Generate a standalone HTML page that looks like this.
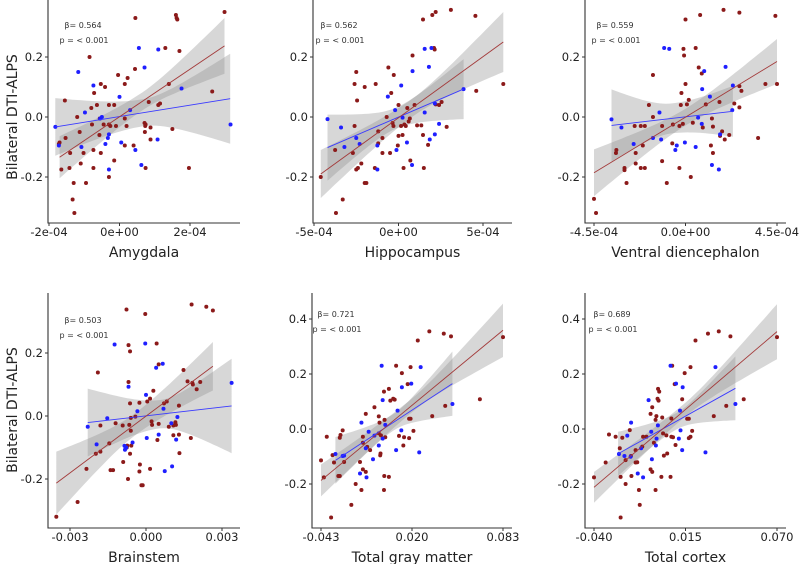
<!DOCTYPE html>
<html><head><meta charset="utf-8"><style>
body{margin:0;background:#fff;width:800px;height:564px;overflow:hidden}
svg{display:block;font-family:"DejaVu Sans","Liberation Sans",sans-serif}
</style></head><body>
<svg id="chart" width="800" height="564" viewBox="0 0 800 564" xmlns="http://www.w3.org/2000/svg"></svg>
<script>
// ---- Data (x in tick units: e-4 for row 1, 1e-3 for brainstem, raw for totals) ----
const p1Red=[[0.45,0.33],[1.6,0.34],[1.62,0.33],[1.64,0.325],[2.98,0.35],[-0.85,0.2],[1.3,0.23],[1.7,0.22],[0.44,0.16],[-0.04,0.14],[0.23,0.13],[-0.53,0.11],[-0.41,0.1],[0.15,0.11],[1.4,0.11],[-0.72,0.08],[2.63,0.085],[-1.55,0.055],[-0.64,0.04],[-0.3,0.04],[-0.15,0.04],[0.83,0.05],[1.1,0.04],[1.15,0.045],[-0.8,0.03],[-1.2,0.0],[0.15,-0.005],[-0.56,-0.005],[-1.13,-0.05],[-1.53,-0.07],[-0.78,-0.025],[-0.45,-0.025],[-0.3,-0.025],[-0.26,-0.03],[-0.1,-0.03],[0.2,-0.03],[0.71,-0.02],[0.74,-0.025],[0.73,-0.03],[0.88,-0.035],[1.5,-0.04],[-0.57,-0.06],[0.72,-0.05],[0.88,-0.075],[-1.7,-0.085],[-1.72,-0.09],[-1.4,-0.12],[-1.02,-0.12],[-0.74,-0.11],[-0.53,-0.12],[0.15,-0.095],[0.4,-0.095],[-1.65,-0.175],[-1.42,-0.17],[-1.1,-0.155],[-0.74,-0.17],[-0.15,-0.145],[-0.3,-0.2],[0.74,-0.17],[1.97,-0.17],[-1.3,-0.22],[-0.95,-0.22],[-1.33,-0.275],[-1.28,-0.32]];
const p1Blue=[[0.55,0.23],[1.1,0.225],[-1.17,0.15],[0.71,0.165],[-0.74,0.105],[1.76,0.095],[0.0,0.067],[-0.98,0.015],[0.3,0.023],[-0.55,-0.005],[-0.5,0.0],[-1.82,-0.033],[3.15,-0.025],[-1.72,-0.095],[-1.08,-0.1],[-0.4,-0.09],[-0.3,-0.058],[-0.33,-0.07],[0.05,-0.085],[0.45,-0.11],[1.08,-0.075],[0.62,-0.16],[-0.3,-0.175]];
const p2Red=[[-4.6,-0.2],[-3.7,-0.32],[-3.3,-0.275],[-3.75,-0.11],[-2.7,-0.12],[-2.6,-0.03],[-2.6,0.11],[-2.5,0.15],[-2.45,0.055],[-2.5,-0.175],[-2.4,-0.17],[-2.2,-0.155],[-2.0,-0.22],[-1.9,-0.22],[-2.0,0.1],[-1.35,0.11],[-1.4,-0.17],[-1.2,-0.048],[-1.2,-0.088],[-0.95,-0.07],[-0.95,-0.12],[-0.6,0.165],[-0.7,0.0],[-0.5,-0.12],[-0.43,0.08],[-0.35,-0.02],[-0.3,-0.03],[-0.28,0.14],[0,0.04],[0,-0.063],[-0.04,-0.095],[0.15,-0.03],[0.24,-0.06],[0.3,-0.17],[0.35,-0.025],[0.43,-0.03],[0.52,0.03],[0.67,-0.005],[0.6,-0.015],[0.83,0.205],[0.7,-0.145],[0.95,0.04],[1.1,-0.028],[1.35,-0.028],[1.45,0.325],[1.45,-0.06],[1.5,-0.17],[1.75,-0.093],[2.0,0.34],[2.2,0.35],[2.1,0.23],[2.14,0.225],[2.2,0.042],[2.4,0.04],[2.55,0.05],[2.85,-0.033],[3.1,0.357],[4.55,0.337],[4.6,0.087],[6.2,0.11]];
const p2Blue=[[-4.2,-0.007],[-3.4,-0.035],[-3.2,-0.1],[-2.5,-0.07],[-2.3,-0.09],[-1.25,-0.095],[-1.25,-0.175],[-0.63,0.068],[-0.2,0.023],[-0.12,-0.11],[0.16,0.105],[0.24,-0.002],[0.5,-0.085],[0.8,-0.16],[0.83,0.153],[1.55,0.015],[1.55,0.227],[1.8,0.167],[1.85,-0.075],[1.95,0.23],[2.15,-0.058],[2.15,0.045],[2.4,-0.023],[3.85,0.093]];
const p3Red=[[-4.5,-0.273],[-4.4,-0.32],[-3.4,-0.11],[-3.42,-0.12],[-3.0,-0.17],[-3.0,-0.177],[-2.9,-0.22],[-2.5,-0.03],[-2.45,-0.12],[-2.45,-0.155],[-2.2,-0.03],[-2.0,-0.03],[-2.2,-0.17],[-2.0,-0.17],[-2.1,-0.095],[-1.8,0.04],[-1.6,0.0],[-1.6,0.14],[-1.15,-0.03],[-1.15,-0.147],[-0.92,-0.22],[-0.65,-0.088],[-0.62,-0.025],[-0.3,-0.03],[-0.3,-0.17],[-0.2,0.08],[-0.23,0.04],[-0.13,-0.023],[-0.1,0.227],[-0.07,0.205],[0,0.325],[0,0.11],[0.07,0.042],[0.16,0.057],[0.26,-0.2],[0.36,-0.019],[0.5,0.23],[0.65,0.165],[0.72,0.34],[0.8,0.145],[0.85,-0.035],[1.0,0.042],[1.25,-0.095],[1.3,-0.005],[1.35,-0.032],[1.35,-0.12],[1.67,0.05],[1.7,-0.063],[1.8,-0.048],[1.87,0.357],[1.93,-0.075],[2.15,-0.06],[2.4,0.045],[2.65,0.348],[2.65,0.103],[2.65,0.032],[2.75,0.087],[3.57,-0.07],[3.93,0.11],[4.42,0.337],[4.5,0.11]];
const p3Blue=[[-3.64,-0.008],[-3.15,-0.035],[-2.55,-0.09],[-1.6,-0.07],[-1.28,0.015],[-1.2,-0.075],[-1.05,0.23],[-0.8,0.227],[-0.5,-0.11],[-0.43,-0.095],[-0.03,-0.085],[0.5,-0.1],[0.62,-0.002],[0.8,-0.023],[0.82,0.093],[0.92,0.153],[1.2,0.068],[1.3,-0.16],[1.64,-0.175],[1.7,-0.058],[1.97,0.167],[2.3,0.023],[2.33,0.105]];
const p4Red=[[-3.54,-0.32],[-2.7,-0.273],[-2.35,-0.168],[-1.98,-0.12],[-1.9,0.138],[-1.8,-0.113],[-1.8,-0.03],[-1.45,-0.087],[-1.4,-0.172],[-1.3,-0.172],[-1.2,-0.023],[-0.92,-0.03],[-0.9,-0.146],[-0.77,0.338],[-0.74,-0.094],[-0.76,-0.1],[-0.71,-0.2],[-0.69,0.225],[-0.69,0.108],[-0.66,-0.028],[-0.63,0.205],[-0.63,0.04],[-0.63,-0.12],[-0.58,-0.094],[-0.6,-0.006],[-0.6,-0.047],[-0.42,-0.002],[-0.26,0.042],[-0.26,-0.176],[-0.24,-0.154],[-0.18,-0.22],[-0.13,-0.22],[-0.03,0.324],[0.05,0.046],[0.16,0.055],[0.16,-0.168],[0.22,-0.017],[0.24,-0.028],[0.29,0.08],[0.42,0.23],[0.45,-0.076],[0.5,0.164],[0.5,-0.025],[0.71,0.04],[0.82,0.046],[0.9,-0.034],[1.08,-0.03],[1.18,-0.028],[1.16,-0.02],[1.08,-0.061],[1.3,0.033],[1.3,-0.059],[1.32,-0.118],[1.48,0.146],[1.64,0.11],[1.77,-0.07],[1.8,0.354],[1.85,0.1],[1.83,0.105],[2.0,0.085],[2.14,0.108],[2.38,0.347],[2.64,0.335]];
const p4Blue=[[-2.3,-0.034],[-1.95,-0.09],[-1.53,-0.007],[-1.24,0.227],[-0.85,-0.095],[-0.83,-0.107],[-0.78,-0.1],[-0.69,0.093],[-0.53,-0.084],[-0.34,0.015],[-0.03,0.23],[0,0.067],[0.03,-0.07],[0.4,0.153],[0.5,-0.059],[0.66,0.166],[0.69,0.023],[0.74,-0.175],[1.0,-0.023],[1.03,-0.16],[1.19,-0.075],[1.24,-0.003],[3.38,0.105]];
const p5Red=[[-0.043,-0.114],[-0.041,-0.176],[-0.039,-0.028],[-0.036,-0.322],[-0.035,-0.095],[-0.034,-0.122],[-0.031,-0.171],[-0.030,-0.171],[-0.030,-0.032],[-0.0295,-0.022],[-0.028,-0.005],[-0.027,-0.12],[-0.022,-0.276],[-0.019,-0.2],[-0.016,-0.12],[-0.015,-0.222],[-0.014,-0.028],[-0.014,-0.05],[-0.014,-0.147],[-0.012,-0.156],[-0.012,0.055],[-0.011,-0.065],[-0.009,-0.077],[-0.006,0.079],[-0.003,0.046],[-0.0025,0.023],[-0.002,-0.096],[-0.0018,-0.089],[-0.003,-0.016],[-0.0015,-0.023],[0.0006,-0.222],[0.0008,-0.171],[0.0006,0.136],[0.001,0.033],[0.0015,-0.03],[0.004,0.146],[0.005,0.103],[0.007,0.11],[0.008,0.107],[0.004,-0.174],[0.009,0.23],[0.011,-0.025],[0.013,0.203],[0.014,-0.06],[0.0145,-0.03],[0.017,0.163],[0.018,0.0375],[0.019,0.0375],[0.018,-0.033],[0.019,0.225],[0.021,-0.007],[0.024,0.322],[0.032,0.355],[0.034,0.047],[0.042,0.347],[0.043,0.084],[0.047,0.337],[0.067,0.108],[0.083,0.334]];
const p5Blue=[[-0.033,-0.091],[-0.028,-0.098],[-0.027,-0.097],[-0.016,-0.162],[-0.015,0.023],[-0.012,-0.07],[-0.0115,-0.176],[-0.010,-0.01],[-0.007,-0.11],[-0.006,-0.024],[-0.003,-0.06],[-0.001,0.23],[-0.0003,-0.035],[-0.0003,0.105],[0.0015,0.015],[0.009,-0.077],[0.010,0.067],[0.0126,-0.005],[0.013,0.152],[0.0195,0.165],[0.025,-0.085],[0.026,0.225],[0.048,0.091]];
const p6Red=[[-0.040,-0.176],[-0.033,-0.122],[-0.031,-0.02],[-0.027,-0.028],[-0.0245,-0.07],[-0.024,-0.174],[-0.024,-0.322],[-0.023,-0.032],[-0.021,-0.113],[-0.021,-0.2],[-0.0185,-0.004],[-0.0178,-0.098],[-0.0175,-0.171],[-0.015,-0.077],[-0.015,-0.122],[-0.014,-0.121],[-0.013,-0.222],[-0.0125,-0.276],[-0.011,-0.064],[-0.0105,-0.028],[-0.0085,-0.028],[-0.006,0.055],[-0.006,-0.147],[-0.005,-0.156],[-0.005,0.079],[-0.004,-0.05],[-0.003,-0.222],[-0.0025,0.047],[-0.003,0.033],[-0.0015,0.146],[-0.0008,0.136],[-0.0012,0.103],[-0.0018,0.11],[0.0005,-0.174],[0.001,0.042],[0.0015,-0.016],[0.002,-0.097],[0.0035,-0.023],[0.004,-0.089],[0.006,-0.174],[0.0065,0.038],[0.0065,-0.028],[0.0075,-0.03],[0.007,0.23],[0.0085,0.163],[0.009,-0.058],[0.013,0.108],[0.0145,0.203],[0.016,0.0375],[0.017,0.0375],[0.017,-0.033],[0.018,-0.028],[0.018,0.225],[0.019,-0.007],[0.021,0.322],[0.0285,0.347],[0.032,0.047],[0.035,0.355],[0.0395,0.084],[0.042,0.337],[0.050,0.108],[0.070,0.334]];
const p6Blue=[[-0.025,-0.091],[-0.0217,-0.098],[-0.020,-0.024],[-0.018,-0.101],[-0.0177,0.023],[-0.0137,-0.162],[-0.0117,-0.07],[-0.0105,-0.176],[-0.0072,0.105],[-0.0056,-0.01],[-0.0052,-0.11],[-0.0028,-0.06],[-0.0016,0.013],[-0.0024,-0.035],[0.006,0.23],[0.0093,0.165],[0.011,-0.035],[0.0117,0.067],[0.012,-0.005],[0.0133,0.152],[0.013,-0.077],[0.027,-0.085],[0.033,0.225],[0.045,0.091]];
// fit lines: [x0, x1, y0, y1, halfwidth-left, halfwidth-min, halfwidth-right]
const fitRed=[[-1.7,2.98,-0.134,0.237,0.07,0.03,0.093],[-4.6,6.2,-0.19,0.25,0.08,0.03,0.1],[-4.5,4.5,-0.186,0.185,0.078,0.028,0.075],[-3.54,2.64,-0.213,0.158,0.1,0.035,0.077],[-0.043,0.083,-0.187,0.359,0.058,0.025,0.097],[-0.040,0.070,-0.212,0.354,0.056,0.025,0.1]];
const fitBlue=[[-1.82,3.14,-0.033,0.061,0.096,0.045,0.15],[-4.2,3.85,-0.102,0.093,0.11,0.035,0.1],[-3.64,2.33,-0.028,0.019,0.12,0.05,0.085],[-2.3,3.38,-0.021,0.032,0.108,0.045,0.15],[-0.033,0.048,-0.114,0.165,0.085,0.03,0.117],[-0.0255,0.045,-0.09,0.148,0.08,0.03,0.116]];
const xTickVals=[[-2,0,2],[-5,0,5],[-4.5,0,4.5],[-3,0,3],[-0.043,0.020,0.083],[-0.040,0.015,0.070]];
const xTickLabels=[["-2e-04","0e+00","2e-04"],["-5e-04","0e+00","5e-04"],["-4.5e-04","0.0e+00","4.5e-04"],["-0.003","0.000","0.003"],["-0.043","0.020","0.083"],["-0.040","0.015","0.070"]];
const yTickVals=[[-0.2,0,0.2],[-0.2,0,0.2],[-0.2,0,0.2],[-0.2,0,0.2],[-0.2,0,0.2,0.4],[-0.2,0,0.2,0.4]];
const yTickLabels=[["-0.2","0.0","0.2"],["-0.2","0.0","0.2"],["-0.2","0.0","0.2"],["-0.2","0.0","0.2"],["-0.2","0.0","0.2","0.4"],["-0.2","0.0","0.2","0.4"]];
const xTitles=["Amygdala","Hippocampus","Ventral diencephalon","Brainstem","Total gray matter","Total cortex"];
const betas=["0.564","0.562","0.559","0.503","0.721","0.689"];

// ---- layout (pixel geometry only) ----
const L=[
 {ax:48,xe:240,top:0,bot:223,xp:[49,190],yp:[177,57],ann:[83,25],row:0},
 {ax:313,xe:512,top:0,bot:223,xp:[314,483],yp:[177,57],ann:[339,25],row:0},
 {ax:585,xe:786,top:0,bot:223,xp:[594,777],yp:[177,57],ann:[615,25],row:0},
 {ax:48,xe:240,top:293,bot:528,xp:[70,222],yp:[479,353],ann:[83,320],row:1},
 {ax:312,xe:512,top:293,bot:528,xp:[321,503],yp:[484,319],ann:[336,314],row:1},
 {ax:585,xe:786,top:293,bot:528,xp:[594,777],yp:[484,319],ann:[612,314],row:1}];
const reds=[p1Red,p2Red,p3Red,p4Red,p5Red,p6Red], blues=[p1Blue,p2Blue,p3Blue,p4Blue,p5Blue,p6Blue];
const NS="http://www.w3.org/2000/svg", svg=document.getElementById('chart');
function mk(tag,attrs,parent,text){const e=document.createElementNS(NS,tag);for(const k in attrs)e.setAttribute(k,attrs[k]);if(text!==undefined)e.textContent=text;(parent||svg).appendChild(e);return e;}

L.forEach((g,i)=>{
  const xv=xTickVals[i], yv=yTickVals[i], yvl=yv.length;
  const sx=v=>g.xp[0]+(v-xv[0])*(g.xp[1]-g.xp[0])/(xv[2]-xv[0]);
  const sy=v=>g.yp[0]+(v-(-0.2))*(g.yp[1]-g.yp[0])/(yv[yvl-1]-(-0.2));
  const grp=mk('g',{});
  
  
  const clip=mk('clipPath',{id:'c'+i},grp);mk('rect',{x:g.ax,y:g.top,width:g.xe-g.ax,height:g.bot-g.top},clip);
  const plot=mk('g',{'clip-path':'url(#c'+i+')'},grp);
  [[fitBlue[i],'#3a3aff','blue'],[fitRed[i],'#a33a3a','red']].forEach(([f,col,nm])=>{
    const [x0,x1,y0,y1,hl,hm,hr]=f, xm=(x0+x1)/2, N=40;
    const hw=x=>{const s=(x-xm)/((x1-x0)/2);const he=x<xm?hl:hr;return Math.sqrt(hm*hm+(he*he-hm*hm)*s*s);};
    const yl=x=>y0+(y1-y0)*(x-x0)/(x1-x0);
    let up=[],lo=[];
    for(let k=0;k<=N;k++){const x=x0+(x1-x0)*k/N;up.push(sx(x).toFixed(1)+','+sy(yl(x)+hw(x)).toFixed(1));lo.unshift(sx(x).toFixed(1)+','+sy(yl(x)-hw(x)).toFixed(1));}
    const band=mk('polygon',{points:up.concat(lo).join(' '),fill:'rgb(140,140,140)','fill-opacity':'0.35'},plot);
    
    
    f.push(()=>{const ln=mk('line',{x1:sx(x0),y1:sy(y0),x2:sx(x1),y2:sy(y1),stroke:col,'stroke-width':0.9},plot);
      
      });
  });
  [[reds[i],'#8b1a1a','red'],[blues[i],'#1f1fff','blue']].forEach(([pts,col,nm])=>{
    pts.forEach(p=>{const c=mk('circle',{cx:sx(p[0]),cy:sy(p[1]),r:2,fill:col},plot);
      
      });
  });
  fitBlue[i].pop()();fitRed[i].pop()();
  const ya=mk('line',{x1:g.ax,y1:g.top,x2:g.ax,y2:g.bot+0.5,stroke:'#333','stroke-width':1.1},grp);
  
  
  const xa=mk('line',{x1:g.ax-0.5,y1:g.bot,x2:g.xe,y2:g.bot,stroke:'#333','stroke-width':1.1},grp);
  
  
  xv.forEach((v,k)=>{const x=sx(v);mk('line',{x1:x,y1:g.bot,x2:x,y2:g.bot+3,stroke:'#333'},grp);
    const t=mk('text',{x:x,y:g.bot+13,'text-anchor':'middle','font-size':11.5,fill:'#222'},grp,xTickLabels[i][k]);
    
    });
  yv.forEach((v,k)=>{const y=sy(v);mk('line',{x1:g.ax-3,y1:y,x2:g.ax,y2:y,stroke:'#333'},grp);
    const t=mk('text',{x:g.ax-5,y:y+4,'text-anchor':'end','font-size':11.5,fill:'#222'},grp,yTickLabels[i][k]);
    
    });
  const xt=mk('text',{x:(g.ax+g.xe)/2,y:g.bot+34,'text-anchor':'middle','font-size':14,fill:'#222'},grp,xTitles[i]);
  
  
  const b=mk('text',{x:g.ann[0],y:g.ann[1]+3,'text-anchor':'middle','font-size':8,fill:'#333'},grp,'β= '+betas[i]);
  
  
  const p=mk('text',{x:g.ann[0]+1,y:g.ann[1]+18,'text-anchor':'middle','font-size':8,fill:'#333'},grp,'p = < 0.001');
  
  
});
[117,410].forEach(cy=>{
  const t=mk('text',{x:0,y:0,transform:'translate(17,'+cy+') rotate(-90)','text-anchor':'middle','font-size':14,fill:'#222'},svg,'Bilateral DTI-ALPS');
  
  
});
</script>
</body></html>
